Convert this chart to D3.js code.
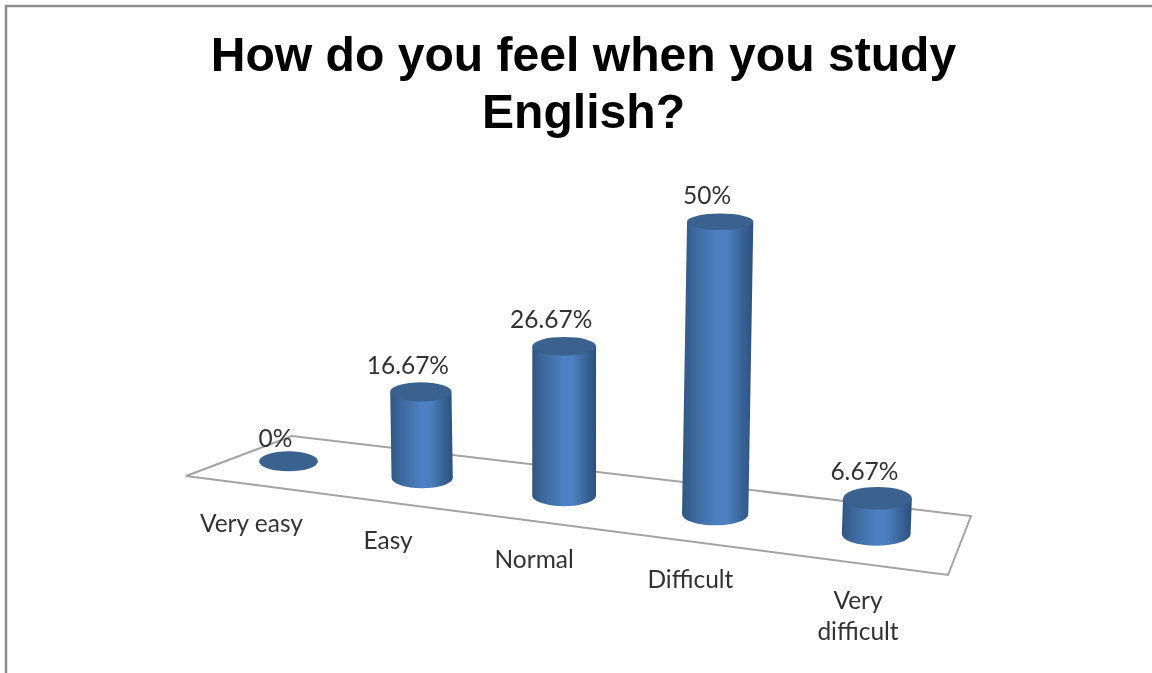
<!DOCTYPE html>
<html><head><meta charset="utf-8">
<script src="https://cdn.jsdelivr.net/npm/d3@7"></script>
<style>html,body{margin:0;padding:0;background:#fff}svg{display:block}</style>
</head><body><svg id="c" width="1152" height="673"></svg>
<script>
const categories = ["Very easy","Easy","Normal","Difficult","Very difficult"];
const values = [0,16.67,26.67,50,6.67];
const valueLabels = ["0%","16.67%","26.67%","50%","6.67%"];
const titleLines = ["How do you feel when you study","English?"];

const W=1152,H=673;
const svg=d3.select("#c");
// floor plane corners (front-left, back-left, back-right, front-right)
const q=[[186,476],[292,436],[971,516],[948,575]];
// homography: (u,v) -> floor, u along categories, v 0 = front, 1 = back
function makeH(p){
  const [p0,p3,p2,p1]=[p[0],p[1],p[2],p[3]];
  const dx1=p1[0]-p2[0],dx2=p3[0]-p2[0],dx3=p0[0]-p1[0]+p2[0]-p3[0];
  const dy1=p1[1]-p2[1],dy2=p3[1]-p2[1],dy3=p0[1]-p1[1]+p2[1]-p3[1];
  const den=dx1*dy2-dx2*dy1;
  const g=(dx3*dy2-dx2*dy3)/den,h=(dx1*dy3-dx3*dy1)/den;
  const a=p1[0]-p0[0]+g*p1[0],b=p3[0]-p0[0]+h*p3[0],c=p0[0];
  const d=p1[1]-p0[1]+g*p1[1],e=p3[1]-p0[1]+h*p3[1],f=p0[1];
  return (u,v)=>{const w=g*u+h*v+1;return [(a*u+b*v+c)/w,(d*u+e*v+f)/w];};
}
const floor=makeH(q);
const band=d3.scaleBand().domain(categories).range([-0.026,1.001]);
const uOf=c=>band(c)+band.bandwidth()/2;
const heightScale=d3.scaleLinear().domain([0,50]).range([0,310]);
const depthFactor=d3.scaleLinear().domain([0.28,0.48,0.68,0.88]).range([0.832,0.90,0.948,0.87]);
const widthFactor=d3.scaleLinear().domain([0,1]).range([0.85,1.03]);
const vpX=560,lean=1.1e-4;

const defs=svg.append("defs");
const grad=defs.append("linearGradient").attr("id","body").attr("x1",0).attr("x2",1).attr("y1",0).attr("y2",0);
[[0,"#2f5580"],[0.14,"#3b6598"],[0.5,"#4e81c3"],[0.64,"#4d7fbf"],[0.88,"#365f90"],[1,"#2c507c"]]
 .forEach(([o,c])=>grad.append("stop").attr("offset",o).attr("stop-color",c));
const blur=defs.append("filter").attr("id","soft").attr("x","-5%").attr("y","-20%").attr("width","110%").attr("height","140%");
blur.append("feGaussianBlur").attr("stdDeviation",0.45);
const blurT=defs.append("filter").attr("id","softText").attr("filterUnits","userSpaceOnUse").attr("x",0).attr("y",0).attr("width",W).attr("height",H);
blurT.append("feGaussianBlur").attr("stdDeviation",0.35);

// frame
svg.append("path").attr("d",`M6,${H}V6H${W}`).attr("fill","none").attr("stroke","#8c8c8c").attr("stroke-width",2.5);

// floor
svg.append("path").attr("d",d3.line()(q)+"Z").attr("fill","none").attr("stroke","#a3a3a3").attr("stroke-width",2);

const cyl=categories.map((c,i)=>{
  const u=uOf(c),[bx,by]=floor(u,0.485);
  const h=heightScale(values[i])*depthFactor(u);
  const rx=34*widthFactor(u),ryB=rx*0.34;
  const tx=bx+(bx-vpX)*h*lean,ty=by-h;
  const ryT=h>0?ryB*(1-h*0.0009):ryB;
  return {c,i,u,bx,by,tx,ty,rx,ryB,ryT,h};
});

const g=svg.append("g").attr("filter","url(#soft)");
cyl.forEach(d=>{
  if(d.h>0){
    g.append("path")
     .attr("d",`M${d.tx-d.rx},${d.ty}L${d.bx-d.rx},${d.by}A${d.rx},${d.ryB} 0 0 0 ${d.bx+d.rx},${d.by}L${d.tx+d.rx},${d.ty}Z`)
     .attr("fill","url(#body)");
  }
  g.append("ellipse").attr("cx",d.tx).attr("cy",d.ty).attr("rx",d.rx).attr("ry",d.ryT).attr("fill","#3a628f");
});

const labels=svg.append("g").attr("filter","url(#softText)");

// data labels
labels.selectAll(".val").data(cyl).join("text").attr("class","val")
  .attr("x",d=>d.tx-13).attr("y",d=>d.ty-(d.h>0?18:14))
  .attr("text-anchor","middle").attr("font-family","Lato, 'Open Sans', sans-serif").attr("font-size",24.5).attr("fill","#333")
  .text(d=>valueLabels[d.i]);

// category labels
labels.selectAll(".cat").data(cyl).join("text").attr("class","cat")
  .each(function(d){
    const [x,y]=floor(d.u,0);
    const parts=d.c==="Very difficult"?["Very","difficult"]:[d.c];
    const t=d3.select(this).attr("text-anchor","middle").attr("font-family","Lato, 'Open Sans', sans-serif").attr("font-size",24.5).attr("fill","#333");
    parts.forEach((s,k)=>t.append("tspan").attr("x",x+(0.9-d.u)*19-0.5).attr("y",y+46+(0.9-d.u)*4+k*31).text(s));
  });

// title
labels.selectAll(".title").data(titleLines).join("text").attr("class","title")
  .attr("x",583.5).attr("y",(d,i)=>71+i*57).attr("text-anchor","middle")
  .attr("font-family","'Liberation Sans', Arial, sans-serif").attr("font-weight","bold").attr("font-size",48.1).attr("fill","#000")
  .text(d=>d);
</script></body></html>
